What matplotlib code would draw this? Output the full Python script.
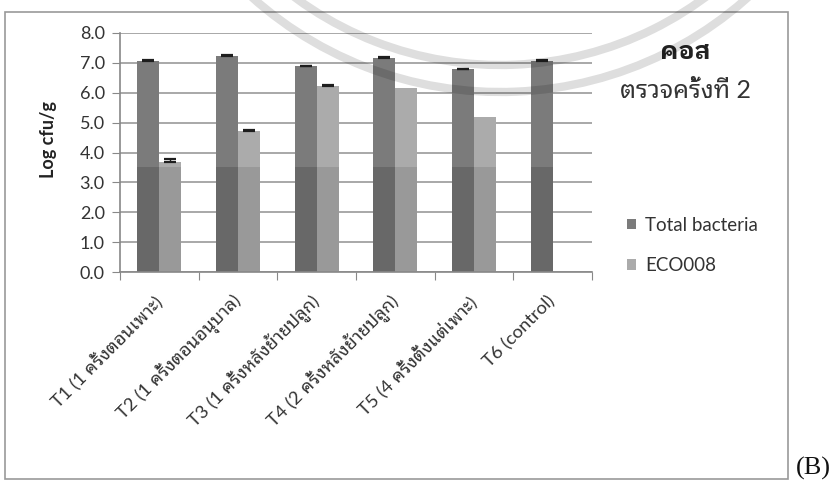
import numpy as np
import matplotlib
matplotlib.use("Agg")
import matplotlib.pyplot as plt
from matplotlib.patches import Arc, Rectangle
from matplotlib.transforms import IdentityTransform

plt.rcParams['font.family'] = ['Lato', 'Noto Sans Thai Looped', 'IBM Plex Sans Thai Looped', 'DejaVu Sans']

# data
treatments = ['T1 (1 ครั้งตอนเพาะ)', 'T2 (1 ครั้งตอนอนุบาล)', 'T3 (1 ครั้งหลังย้ายปลูก)',
              'T4 (2 ครั้งหลังย้ายปลูก)', 'T5 (4 ครั้งตั้งแต่เพาะ)', 'T6 (control)']
total_bacteria = [7.06, 7.22, 6.88, 7.16, 6.78, 7.05]
total_err = [0.03, 0.03, 0.03, 0.03, 0.03, 0.03]
eco008 = [3.68, 4.73, 6.22, 6.15, 5.20, 0.0]
eco_err = [0.10, 0.03, 0.03, 0.0, 0.0, 0.0]
series_names = ['Total bacteria', 'ECO008']

dark_band = 3.5   # the scan makes the lower part of every bar darker

fig = plt.figure(figsize=(8.4, 4.88), dpi=100)
ax = fig.add_axes([0.1429, 0.4426, 0.5619, 0.4898])

x = np.arange(len(treatments))
w = 0.28
tb = np.array(total_bacteria)
eco = np.array(eco008)
ax.bar(x - w/2, tb, w, color='#7b7b7b', label=series_names[0], zorder=2)
ax.bar(x + w/2, eco, w, color='#ababab', label=series_names[1], zorder=2)
ax.bar(x - w/2, np.minimum(tb, dark_band), w, color='#686868', zorder=2)
ax.bar(x + w/2, np.minimum(eco, dark_band), w, color='#999999', zorder=2)

# error bars (upper half only, as in the original)
for xs, vals, errs in [(x - w/2, tb, np.array(total_err)), (x + w/2, eco, np.array(eco_err))]:
    m = errs > 0
    ax.errorbar(xs[m], vals[m], yerr=[np.zeros(m.sum()), errs[m]], fmt='none',
                ecolor='#1e1e1e', elinewidth=1, capsize=4, capthick=1.6, zorder=3)

ax.set_xlim(-0.5, len(treatments) - 0.5)
ax.set_ylim(0, 8)
yt = np.arange(0, 8.1, 1.0)
ax.set_yticks(yt)
ax.set_yticklabels(['%.1f' % v for v in yt], fontsize=13, color='#333333')
ax.yaxis.grid(True, color='#9a9a9a', linewidth=1.2, zorder=0)
ax.set_axisbelow(True)

ax.set_xticks(np.arange(-0.5, len(treatments), 1.0))
ax.set_xticklabels([])
ax.set_xticks(x, minor=True)
ax.set_xticklabels(treatments, minor=True, rotation=45, ha='right', va='center',
                   rotation_mode='anchor', fontsize=13.2, color='#333333')
ax.tick_params(axis='x', which='minor', length=0, pad=19)
ax.tick_params(axis='x', which='major', length=6, color='#888888', direction='out')
ax.tick_params(axis='y', length=6, color='#888888', direction='out', pad=5)

for s in ['top', 'right']:
    ax.spines[s].set_visible(False)
for s in ['left', 'bottom']:
    ax.spines[s].set_color('#888888')
    ax.spines[s].set_linewidth(1.2)

ax.set_ylabel('Log cfu/g', fontsize=13, fontweight='bold', color='#222222')
ax.yaxis.set_label_coords(-0.133, 0.556)

# title at the right
fig.text(0.8155, 0.893, 'คอส', fontsize=18, fontweight='bold', ha='center', va='center',
         color='#222222', family=['IBM Plex Sans Thai Looped', 'DejaVu Sans'])
fig.text(0.8155, 0.815, 'ตรวจครั้งที่ 2', fontsize=18, ha='center', va='center', color='#333333')

ax.legend(loc='upper left', bbox_to_anchor=(0.746, 0.556), bbox_transform=fig.transFigure,
          frameon=False, fontsize=13.5, borderpad=0, borderaxespad=0,
          handlelength=0.5, handleheight=0.5, handletextpad=0.5, labelspacing=1.25,
          labelcolor='#333333')

# outer frame of the chart and the panel letter
fig.patches.append(Rectangle((0.006, 0.0184), 0.932, 0.958, transform=fig.transFigure,
                             fill=False, edgecolor='#999999', linewidth=1.2))
fig.text(0.947, 0.041, '(B)', fontsize=19, family='Liberation Serif', ha='left',
         va='center', color='#111111')

# faint watermark arcs (pixel coordinates of the scanned page), drawn on top
for r in (345, 372):
    fig.patches.append(Arc((500, 768), 2 * r, 2 * r, transform=IdentityTransform(),
                           theta1=225, theta2=320, color='black', linewidth=6,
                           alpha=0.13, zorder=5))

fig.savefig('out.png', dpi=100)
